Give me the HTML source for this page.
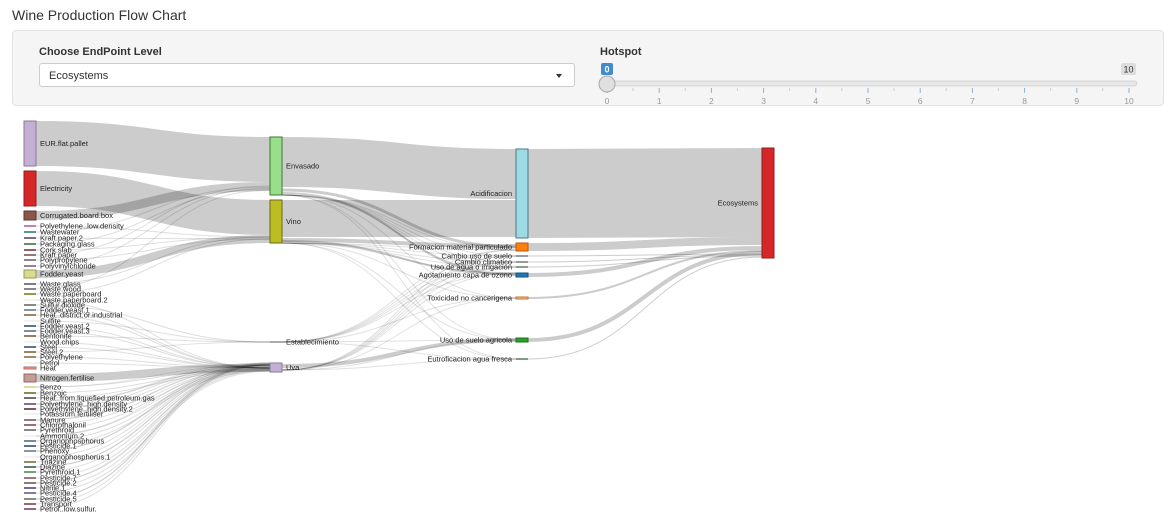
<!DOCTYPE html>
<html><head><meta charset="utf-8">
<style>
body{margin:0;width:1175px;height:530px;background:#fff;font-family:"Liberation Sans",sans-serif;overflow:hidden;position:relative}
.t{position:absolute;left:12px;top:7px;font-size:14px;color:#333}
.panel{position:absolute;left:12px;top:30px;width:1150px;height:74px;background:#f5f5f5;border:1px solid #e3e3e3;border-radius:4px}
.lbl{position:absolute;font-size:11px;font-weight:bold;color:#333}
.sel{position:absolute;left:39px;top:63px;width:536px;height:24px;background:#fff;border:1px solid #ccc;border-radius:3px;font-size:11px;color:#333;line-height:24px;box-sizing:border-box;padding-left:9px}
.sel:after{content:"";position:absolute;right:12px;top:10px;border-left:3px solid transparent;border-right:3px solid transparent;border-top:4px solid #333}
</style></head><body>
<div class="t">Wine Production Flow Chart</div>
<div class="panel"></div>
<div class="lbl" style="left:39px;top:46px">Choose EndPoint Level</div>
<div class="sel">Ecosystems</div>
<div class="lbl" style="left:600px;top:46px">Hotspot</div>
<svg id="sl" width="1175" height="530" style="position:absolute;left:0;top:0" font-family="Liberation Sans, sans-serif">
<rect x="601" y="63" width="12" height="12" rx="2" fill="#428bca"/><text x="607" y="72.5" font-size="9" fill="#fff" text-anchor="middle" font-weight="bold">0</text>
<rect x="1121" y="63" width="15" height="12" rx="2" fill="#ddd"/><text x="1128.5" y="72.5" font-size="9" fill="#333" text-anchor="middle">10</text>
<rect x="603" y="81" width="534" height="5" rx="2.5" fill="#e7e7e7" stroke="#ccc" stroke-width="0.7"/>
<g id="ticks"></g>
<circle cx="607" cy="84" r="8" fill="#e0e0e0" stroke="#aaa"/>
</svg>
<svg id="sk" width="1175" height="530" style="position:absolute;left:0;top:0" font-family="Liberation Sans, sans-serif" font-size="7.5" fill="#222">
<g id="links" fill="none"></g><g id="nodes"></g>
</svg>
<script>
var NS="http://www.w3.org/2000/svg";
function el(p,t,a,txt){var e=document.createElementNS(NS,t);for(var k in a)e.setAttribute(k,a[k]);if(txt!=null)e.textContent=txt;document.getElementById(p).appendChild(e);return e;}
for(var i=0;i<=10;i++){var x=607+i*52.2;el("ticks","line",{x1:x,y1:88,x2:x,y2:93,stroke:"#8bb3d6","stroke-width":1});el("ticks","text",{x:x,y:104,"font-size":"8.5",fill:"#999","text-anchor":"middle"},i);
 if(i<10)el("ticks","line",{x1:x+26,y1:88,x2:x+26,y2:91,stroke:"#ccc","stroke-width":1});}
function link(x0,y0,x1,y1,w,op){var m=(x0+x1)/2;el("links","path",{d:"M"+x0+" "+y0+"C"+m+" "+y0+" "+m+" "+y1+" "+x1+" "+y1,stroke:"#000","stroke-opacity":op||0.2,"stroke-width":w});}
// big links
link(36,143.5,270,159.5,45);
link(36,188.5,270,217.5,35);
link(36,215.5,270,186.5,9);
link(36,274,270,239,8);
link(36,378,270,367.5,8);
link(282,162,516,174,50);
link(282,218.5,516,218.5,37);
link(282,190,516,247,3);
link(282,240,516,246,4);
link(282,366,516,340,4);
link(282,193,516,275,2);
link(282,241,516,274,2);
link(528,193.5,762,192.5,89);
link(528,247,762,241,8);
link(528,275,762,248,4);
link(528,340,762,253,4);
link(528,298,762,251,2);
[256,262,267,359].forEach(function(y,i){link(528,y,762,254+i,1);});
// left labels
var L=[["Polyethylene..low.density",226,"#a0508c"],["Wastewater",232,"#1a6a6a"],["Kraft.paper.2",238,"#40305a"],["Packaging.glass",244,"#2a5a2a"],["Cork.slab",250,"#6a1a1a"],["Kraft.paper",255,"#6a3a3a"],["Polypropylene",260,"#6a4a5a"],["Polyvinylchloride",266,"#6a4a6a"],
["Waste.glass",284,"#444"],["Waste.wood",289,"#555"],["Waste.paperboard",294,"#6a6a00"],["Waste.paperboard.2",300,"#fff"],["Sulfur.dioxide",305,"#555"],["Fodder.yeast.1",310,"#4a6a7a"],["Heat..district.or.industrial",315,"#7a5020"],["Sulfite",321,"#fff"],["Fodder.yeast.2",326,"#1a3a5a"],["Fodder.yeast.3",331,"#4a5a6a"],["Bentonite",336,"#7a4020"],["Wood.chips",342,"#fff"],["Steel",347,"#1a3a5a"],["Steel.2",352,"#7a4a20"],["Polyethylene",357,"#7a5a20"],["Petrol",363,"#fff"],
["Benzo",387,"#cccc80"],["Benzoic",393,"#5a5a00"],["Heat..from.liquefied.petroleum.gas",398,"#333"],["Polyethylene..high.density",404,"#5a2a6a"],["Polyethylene..high.density.2",409,"#3a1a1a"],["Potassium.fertiliser",414,"#fff"],["Manure",420,"#6a3a5a"],["Chlorothalonil",425,"#5a3a3a"],["Pyrethroid",430,"#555"],["Ammonium.2",436,"#fff"],["Organophosphorus",441,"#3a5a6a"],["Pesticide.1",446,"#0a3a5a"],["Phenoxy",451,"#5a6a7a"],["Organophosphorus.1",457,"#fff"],["Triazine",462,"#6a5a20"],["Diazine",467,"#1a4a1a"],["Pyrethroid.1",472,"#3a7a3a"],["Pesticide.7",478,"#7a3a4a"],["Pesticide.2",483,"#6a3a3a"],["Nitrile.1",488,"#3a2a6a"],["Pesticide.4",493,"#4a4a6a"],["Pesticide.5",499,"#5a5a5a"],["Transport",504,"#6a2a2a"],["Petrol..low.sulfur.",509,"#5a2a5a"]];
L.forEach(function(d,i){var tgt=d[1]<300?(i%2?186+i%5:237+i%4):(d[1]<370?(i%3?368:342):363+(i%9));link(36,d[1],270,tgt,1,0.13);
 if(i%3==0&&d[1]>380)link(36,d[1],270,365,1,0.1);});
// extra thin middle links
[250,256,262,267,273,298,340,359].forEach(function(y,i){link(282,342,516,y,1,0.12);link(282,370,516,y,1,0.12);link(282,195,516,y,1,0.12);link(282,243,516,y,1,0.12);});
function node(x,y,h,f,s){el("nodes","rect",{x:x,y:y,width:12,height:h,fill:f,stroke:s,"stroke-width":1});}
function tx(x,y,t,a){el("nodes","text",{x:x,y:y+2.5,"text-anchor":a||"start"},t);}
node(24,121,45,"#c5b0d5","#8a7a95");tx(40,143.5,"EUR.flat.pallet");
node(24,171,35,"#d62728","#951b1b");tx(40,188.5,"Electricity");
node(24,211,9,"#8c564b","#5a3630");tx(40,215.5,"Corrugated.board.box");
node(24,270,8,"#dbdb8d","#999962");tx(40,274,"Fodder.yeast");
node(24,374,8,"#c49c94","#8a6c68");tx(40,378,"Nitrogen.fertilise");
node(24,367,2,"#ff9896","#b36a69");tx(40,368,"Heat");
L.forEach(function(d){el("nodes","rect",{x:24,y:d[1]-0.7,width:12,height:1.4,fill:d[2]=="#fff"?"#eee":d[2]});tx(40,d[1],d[0]);});
node(270,137,58,"#98df8a","#3a7a30");tx(286,166,"Envasado");
node(270,200,43,"#bcbd22","#6a6a10");tx(286,221.5,"Vino");
el("nodes","rect",{x:270,y:341.5,width:12,height:1,fill:"#555"});tx(286,342,"Establecimiento");
node(270,363,9,"#c5b0d5","#8a7a95");tx(286,367.5,"Uva");
node(516,149,89,"#9edae5","#4a7a80");tx(512,193.5,"Acidificacion","end");
node(516,243,8,"#ff7f0e","#b35a0a");tx(512,247,"Formacion material particulado","end");
[[256,"Cambio uso de suelo","#4a5a7a"],[262,"Cambio climatico","#555"],[267,"Uso de agua o irrigacion","#2a6a2a"],[359,"Eutroficacion agua fresca","#2a5a2a"]].forEach(function(d){el("nodes","rect",{x:516,y:d[0]-0.6,width:12,height:1.2,fill:d[2]});tx(512,d[0],d[1],"end");});
node(516,273,4,"#1f77b4","#15527e");tx(512,275,"Agotamiento capa de ozono","end");
node(516,297,2,"#ffbb78","#b37a40");tx(512,298,"Toxicidad no cancerigena","end");
node(516,338,4,"#2ca02c","#1e701e");tx(512,340,"Uso de suelo agricola","end");
node(762,148,110,"#d62728","#951b1b");tx(758,203,"Ecosystems","end");
</script>
</body></html>
